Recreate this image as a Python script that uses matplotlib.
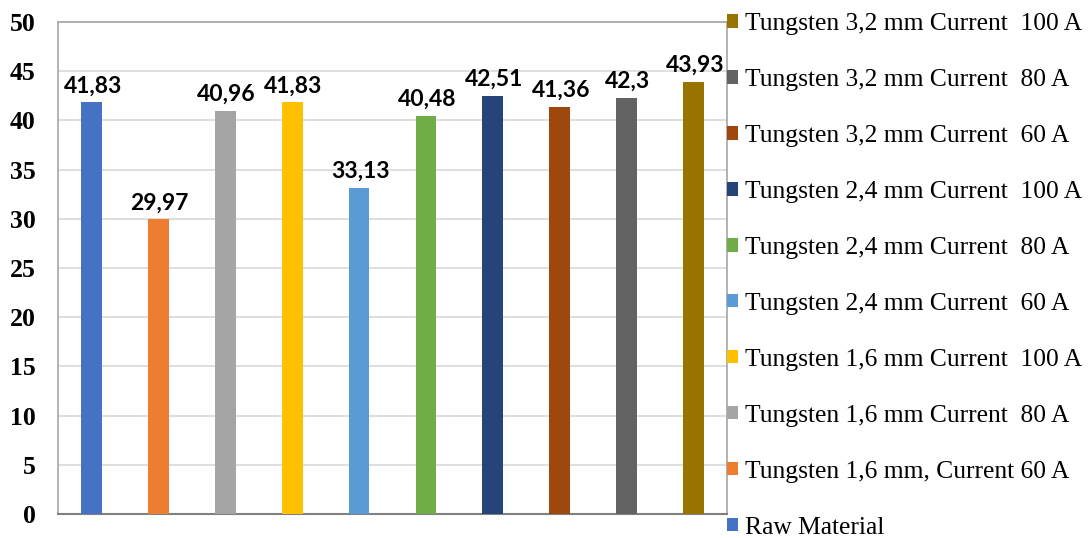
import matplotlib
matplotlib.use("Agg")
import matplotlib.pyplot as plt
import numpy as np

labels = ["Raw Material",
          "Tungsten 1,6 mm, Current 60 A",
          "Tungsten 1,6 mm Current  80 A",
          "Tungsten 1,6 mm Current  100 A",
          "Tungsten 2,4 mm Current  60 A",
          "Tungsten 2,4 mm Current  80 A",
          "Tungsten 2,4 mm Current  100 A",
          "Tungsten 3,2 mm Current  60 A",
          "Tungsten 3,2 mm Current  80 A",
          "Tungsten 3,2 mm Current  100 A"]
values = [41.83, 29.97, 40.96, 41.83, 33.13, 40.48, 42.51, 41.36, 42.30, 43.93]
value_texts = ["41,83", "29,97", "40,96", "41,83", "33,13", "40,48", "42,51", "41,36", "42,3", "43,93"]
colors = ["#4472C4", "#ED7D31", "#A5A5A5", "#FFC000", "#5B9BD5",
          "#70AD47", "#264478", "#9E480E", "#636363", "#997300"]
yticks = [0, 5, 10, 15, 20, 25, 30, 35, 40, 45, 50]

fig = plt.figure(figsize=(10.9, 5.38), dpi=100)
ax = fig.add_axes([58/1090, 24/538, (727-58)/1090, (514-22)/538])

x = np.arange(len(values))
handles = []
for i, (v, c, lab) in enumerate(zip(values, colors, labels)):
    b = ax.bar(x[i], v, width=0.31, color=c, label=lab, zorder=3)
    handles.append(b)
    ax.text(x[i] + 0.02, v + 1.0, value_texts[i], ha="center", va="baseline",
            fontsize=16.5, fontweight="bold", family=["Lato", "DejaVu Sans"], zorder=4)

ax.set_xlim(-0.5, len(values) - 0.5)
ax.set_ylim(0, 50)
ax.set_yticks(yticks)
ax.set_yticklabels([str(t) for t in yticks], fontsize=18.5, fontweight="bold",
                   family="Liberation Serif")
ax.set_xticks([])
ax.tick_params(axis="y", length=0, pad=16)
ax.grid(axis="y", color="#D9D9D9", linewidth=1.2, zorder=0)
for s in ["left", "top", "right"]:
    ax.spines[s].set_color("#A6A6A6")
    ax.spines[s].set_linewidth(1.2)
ax.spines["bottom"].set_color("#808080")
ax.spines["bottom"].set_linewidth(1.5)

leg = fig.legend(handles[::-1], labels[::-1], loc="center left",
                 bbox_to_anchor=(727/1090, 1 - 276/538), frameon=False,
                 prop={"family": "Liberation Serif", "size": 18.4},
                 handlelength=0.42, handleheight=0.42, handletextpad=0.3,
                 labelspacing=1.33, borderpad=0, borderaxespad=0)

fig.savefig("out.png", dpi=100)
